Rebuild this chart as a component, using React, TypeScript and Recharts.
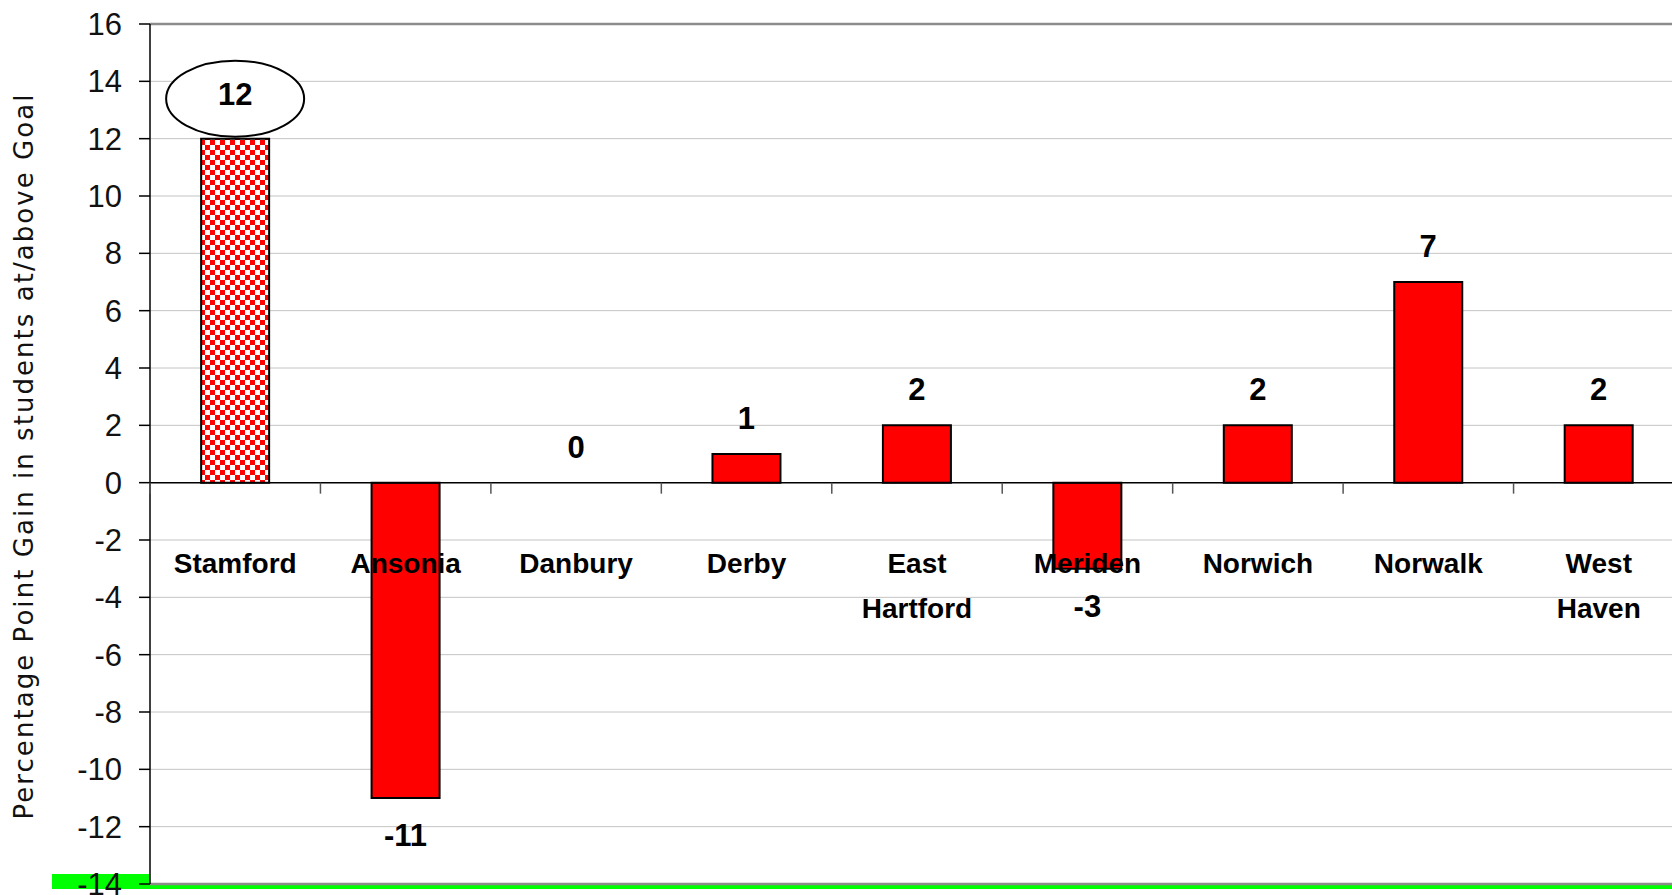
import { BarChart, Bar, XAxis, YAxis, CartesianGrid, ReferenceLine, LabelList, Cell } from 'recharts'

const districts = ['Stamford', 'Ansonia', 'Danbury', 'Derby', 'East Hartford', 'Meriden', 'Norwich', 'Norwalk', 'West Haven']
const gains = [12, -11, 0, 1, 2, -3, 2, 7, 2]
const highlighted = ['Stamford']
const yTicks = [-14, -12, -10, -8, -6, -4, -2, 0, 2, 4, 6, 8, 10, 12, 14, 16]
const yTitle = 'Percentage Point Gain in students at/above Goal'

const data = districts.map((name, i) => ({ name, gain: gains[i] }))

const W = 1684
const H = 895
const X_AXIS_H = 11
const M = { top: 24, right: 0, bottom: 0, left: 0 }
const Y_AXIS_W = 150
const yMin = yTicks[0]
const yMax = yTicks[yTicks.length - 1]
const plotTop = M.top
const plotBottom = H - M.bottom - X_AXIS_H
const plotW = W - M.left - M.right - Y_AXIS_W
const band = plotW / districts.length
const zeroY = plotTop + ((yMax - 0) / (yMax - yMin)) * (plotBottom - plotTop)

const labelFont = '"Liberation Sans", Arial, sans-serif'

function CategoryTick(props: any) {
  const { x, payload, index } = props
  const words = String(payload.value).split(' ')
  const last = index === districts.length - 1
  return (
    <g>
      <line x1={x - band / 2} x2={x - band / 2} y1={zeroY} y2={zeroY + 11} stroke="#555" strokeWidth={1.5} />
      {last && <line x1={x + band / 2} x2={x + band / 2} y1={zeroY} y2={zeroY + 11} stroke="#555" strokeWidth={1.5} />}
      <text x={x} y={zeroY + 90} textAnchor="middle" fontFamily={labelFont} fontWeight="bold" fontSize={28} fill="#000">
        {words.map((w, i) => (
          <tspan key={i} x={x} dy={i === 0 ? 0 : 45}>{w}</tspan>
        ))}
      </text>
    </g>
  )
}

function ValueLabel(props: any) {
  const { x, y, width, height, value, index } = props
  const top = Math.min(y, y + height)
  const bottom = Math.max(y, y + height)
  const cx = x + width / 2
  if (highlighted.includes(districts[index])) {
    const cy = top - 40
    return (
      <g>
        <ellipse cx={cx} cy={cy} rx={69} ry={38} fill="#fff" stroke="#000" strokeWidth={2} />
        <text x={cx} y={cy + 6} textAnchor="middle" fontFamily={labelFont} fontWeight="bold" fontSize={31} fill="#000">{value}</text>
      </g>
    )
  }
  const ty = value < 0 ? bottom + 48 : zeroY === top && value === 0 ? zeroY - 21 : top - 25
  return (
    <text x={cx} y={ty} textAnchor="middle" fontFamily={labelFont} fontWeight="bold" fontSize={31} fill="#000">{value}</text>
  )
}

function YTitle() {
  return (
    <text
      x={24}
      y={457}
      transform="rotate(-90 24 457)"
      textAnchor="middle"
      dominantBaseline="central"
      fontFamily='"DejaVu Sans", sans-serif'
      fontSize={26}
      textLength={725}
      lengthAdjust="spacing"
      fill="#111"
    >
      {yTitle}
    </text>
  )
}

export default function App() {
  return (
    <div style={{ position: 'absolute', left: 0, top: 0, width: 1672, height: 895, overflow: 'hidden', background: '#fff' }}>
      <div style={{ position: 'absolute', left: 52, top: 874, width: 1620, height: 15, background: '#00ff00' }} />
      <div style={{ position: 'absolute', left: 0, top: 0 }}>
        <BarChart width={W} height={H} data={data} margin={M} barCategoryGap="30%">
          <defs>
            <pattern id="checker" width={10} height={10} patternUnits="userSpaceOnUse">
              <rect width={10} height={10} fill="#fff" />
              <rect width={5} height={5} fill="#ff0000" />
              <rect x={5} y={5} width={5} height={5} fill="#ff0000" />
            </pattern>
          </defs>
          <CartesianGrid vertical={false} stroke="#c4c4c4" fill="#fff" />
          <YAxis
            domain={[yMin, yMax]}
            ticks={yTicks}
            interval={0}
            width={Y_AXIS_W}
            axisLine={{ stroke: '#000', strokeWidth: 1.5 }}
            tickLine={{ stroke: '#000', strokeWidth: 1.5 }}
            tickSize={11}
            tickMargin={17}
            tick={{ fontFamily: labelFont, fontSize: 31, fill: '#111' }}
            label={<YTitle />}
          />
          <ReferenceLine y={yMax} stroke="#8c8c8c" strokeWidth={2.5} />
          <ReferenceLine y={yMin} stroke="#8c8c8c" strokeWidth={2.5} />
          <ReferenceLine y={0} stroke="#000" strokeWidth={1.5} />
          <Bar
            dataKey="gain"
            stroke="#000"
            strokeWidth={2}
            minPointSize={(v: number) => (v === 0 ? 0.01 : 0)}
            isAnimationActive={false}
          >
            {data.map((d) => (
              <Cell
                key={d.name}
                fill={highlighted.includes(d.name) ? 'url(#checker)' : '#ff0000'}
                strokeWidth={d.gain === 0 ? 0 : 2}
              />
            ))}
            <LabelList dataKey="gain" content={(p: any) => <ValueLabel {...p} />} />
          </Bar>
          <XAxis
            dataKey="name"
            height={X_AXIS_H}
            axisLine={false}
            tickLine={false}
            interval={0}
            tick={(p: any) => <CategoryTick {...p} />}
          />
        </BarChart>
      </div>
    </div>
  )
}
